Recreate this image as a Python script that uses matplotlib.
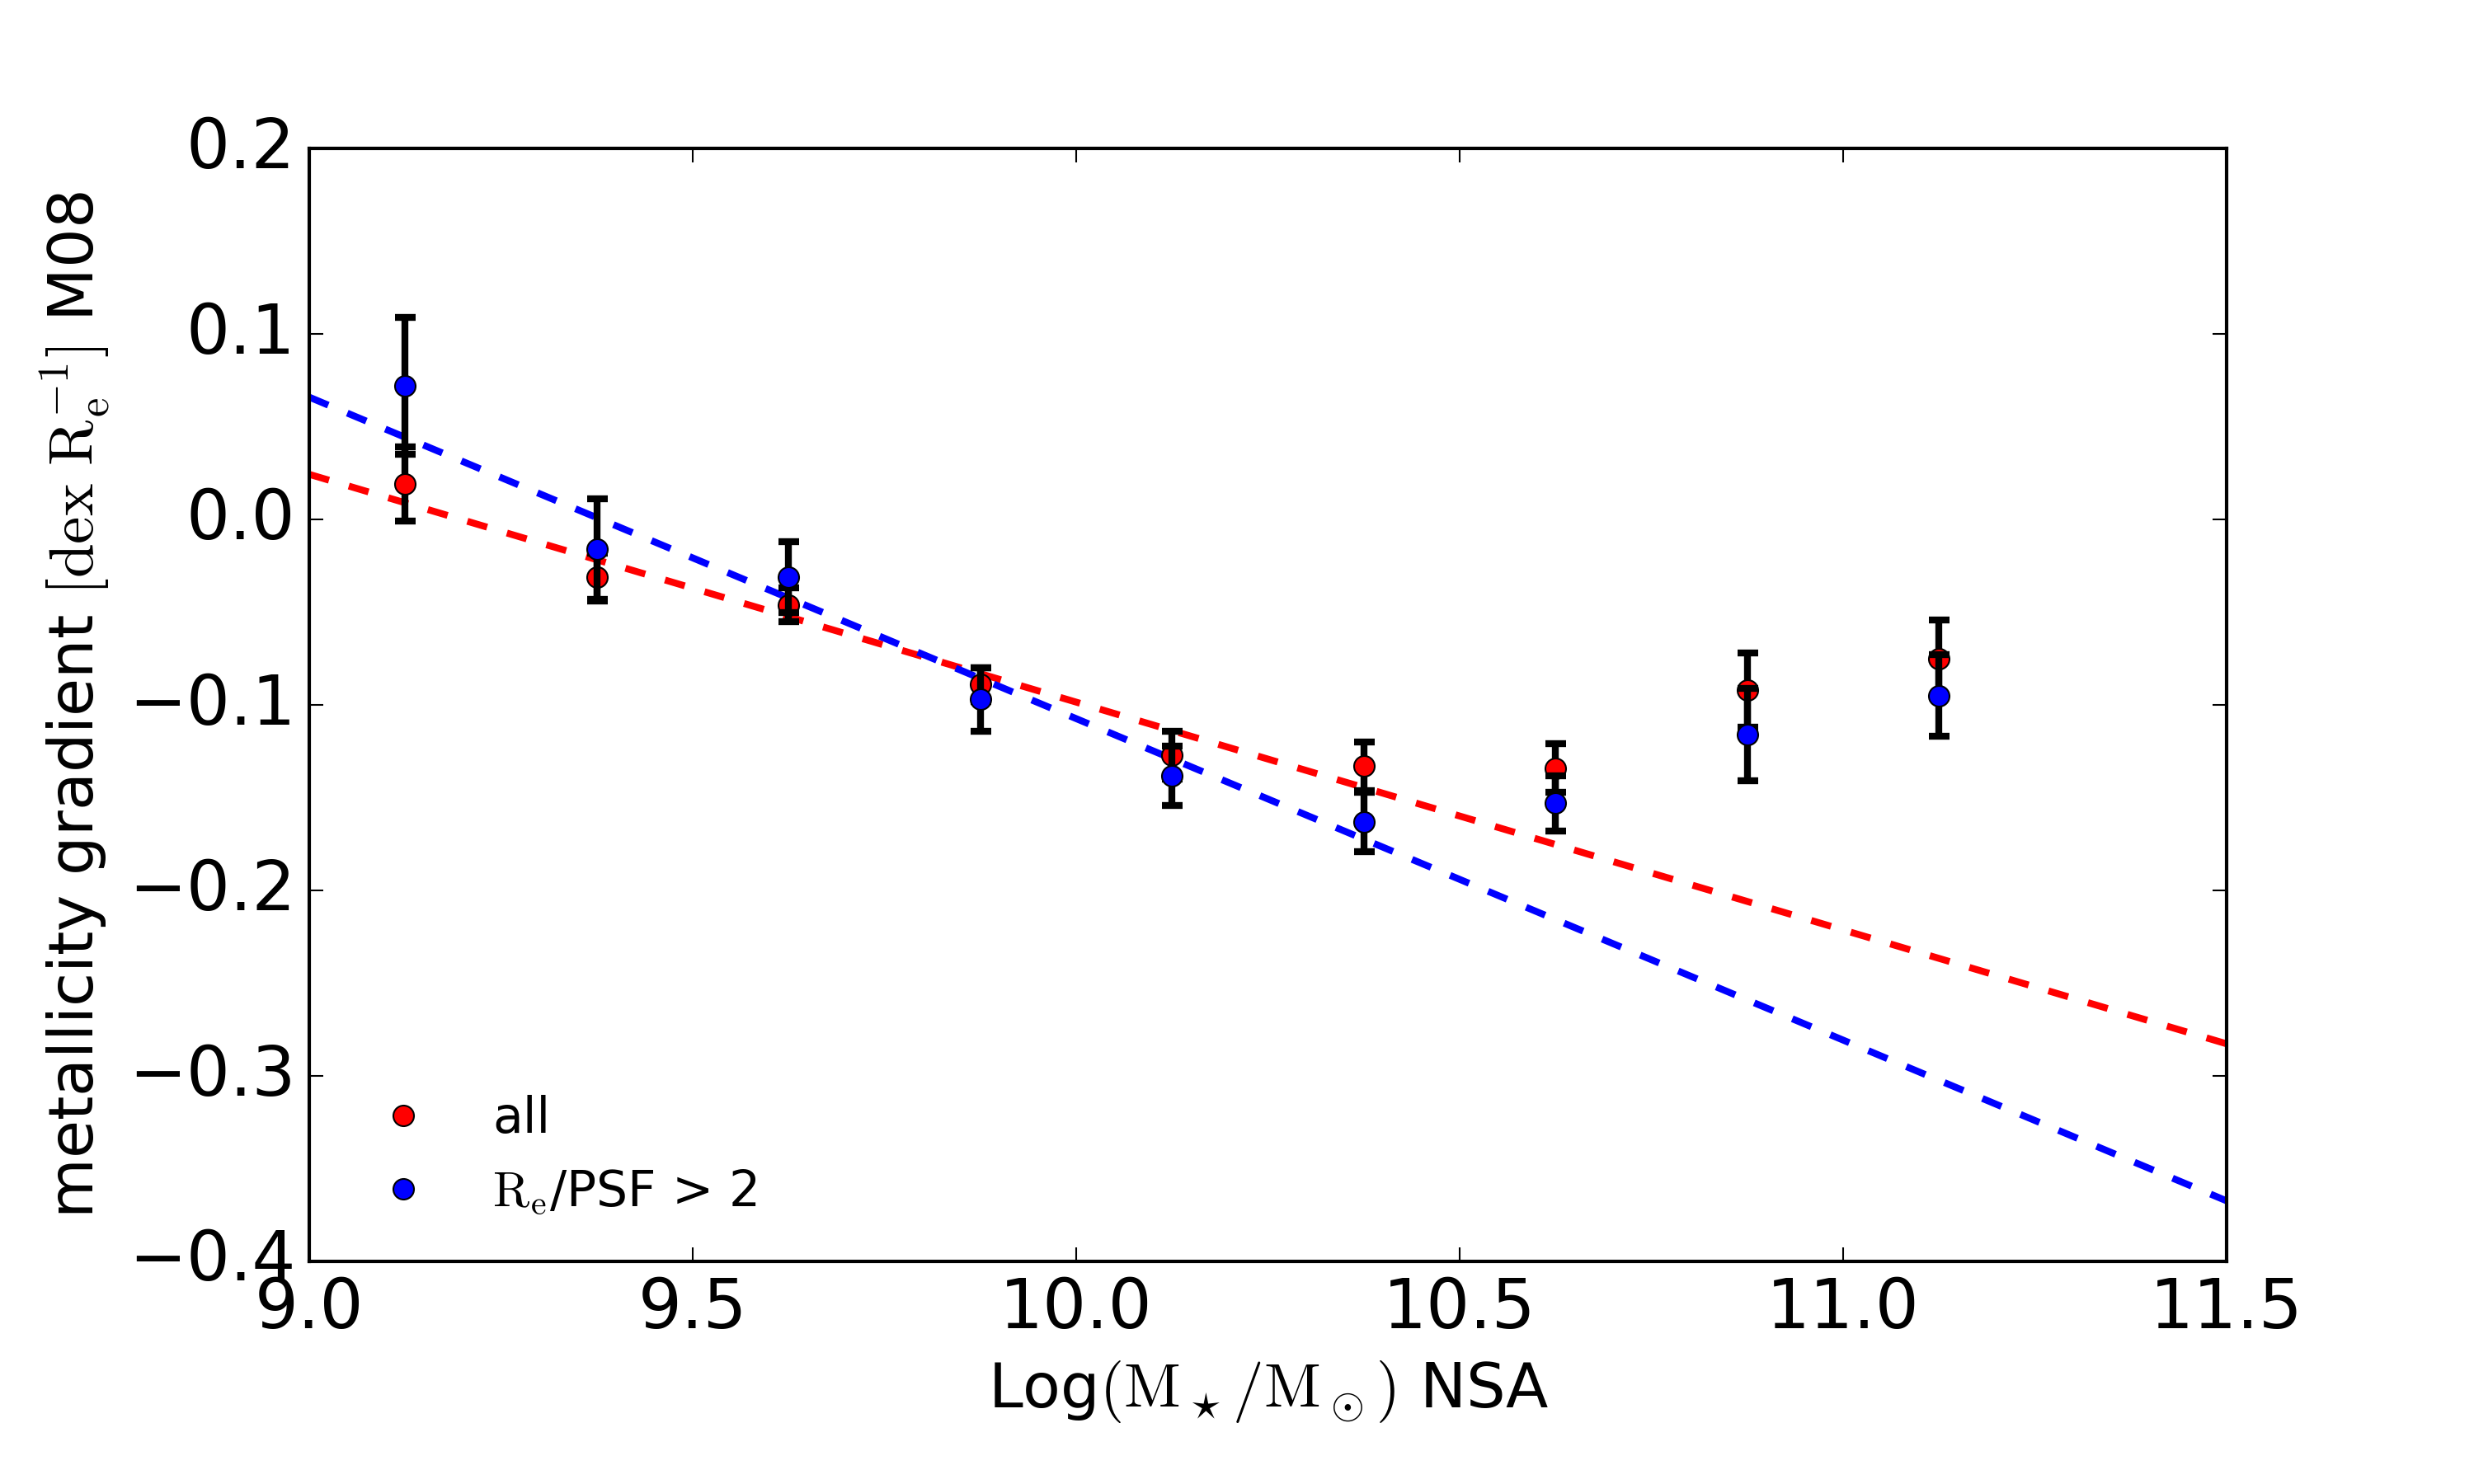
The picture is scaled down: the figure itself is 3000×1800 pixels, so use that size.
import numpy as np
import matplotlib
matplotlib.use('Agg')
import matplotlib.pyplot as plt

plt.style.use('classic')

#############
# Data      #
#############
# stellar mass bins, Log(M*/Msun) NSA
mass_bins = [9.125, 9.375, 9.625, 9.875, 10.125, 10.375, 10.625, 10.875, 11.125]

# all galaxies
grad_all = [0.019, -0.031, -0.046, -0.089, -0.127, -0.133, -0.134, -0.092, -0.075]
err_all = [0.020, 0.013, 0.009, 0.009, 0.013, 0.013, 0.013, 0.020, 0.021]

# Re/PSF > 2 subsample
grad_res = [0.072, -0.016, -0.031, -0.097, -0.138, -0.163, -0.153, -0.116, -0.095]
err_res = [0.037, 0.027, 0.019, 0.017, 0.016, 0.016, 0.015, 0.025, 0.022]

# linear fits (slope, intercept at Log M = 9)
fit_all = [-0.1228, 0.0243]
fit_res = [-0.1733, 0.0659]

xlim = [9.0, 11.5]
ylim = [-0.4, 0.2]

#############
# Plot      #
#############
fig = plt.figure(figsize=(10, 6), dpi=300, facecolor='white')
fig.subplots_adjust(left=0.125, right=0.9, bottom=0.15, top=0.9)
ax = fig.add_subplot(111)

xfit = np.array(xlim)
ax.plot(xfit, fit_all[1] + fit_all[0] * (xfit - 9.0), 'r--', lw=2)
ax.plot(xfit, fit_res[1] + fit_res[0] * (xfit - 9.0), 'b--', lw=2)

ax.errorbar(mass_bins, grad_all, yerr=err_all, fmt='none', ecolor='k',
            elinewidth=2, capsize=3, capthick=2)
ax.plot(mass_bins, grad_all, 'o', color='r', mec='k', mew=0.5, ms=6, label='all')
ax.errorbar(mass_bins, grad_res, yerr=err_res, fmt='none', ecolor='k',
            elinewidth=2, capsize=3, capthick=2)
ax.plot(mass_bins, grad_res, 'o', color='b', mec='k', mew=0.5, ms=6,
        label=r'$\rm R_e$/PSF > 2')

ax.set_xlim(xlim)
ax.set_ylim(ylim)
ax.set_xticks(np.arange(9.0, 11.51, 0.5))
ax.set_yticks(np.arange(-0.4, 0.21, 0.1))
ax.tick_params(labelsize=20)

ax.set_xlabel(r'Log$(\rm M_\star/M_\odot)$ NSA', fontsize=18)
ax.set_ylabel(r'metallicity gradient $[\rm dex\ R_e^{-1}]$ M08', fontsize=18)

ax.legend(loc='lower left', numpoints=1, frameon=False, fontsize='large')

plt.savefig('out.png', dpi=300, facecolor='white')
plt.close()
